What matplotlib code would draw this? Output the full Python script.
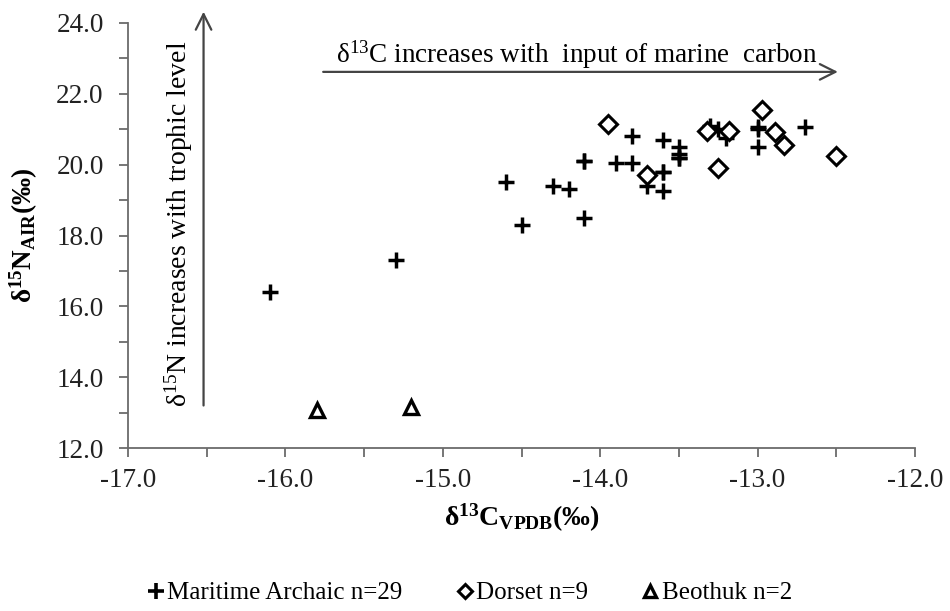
import matplotlib
matplotlib.use("Agg")
import matplotlib.pyplot as plt
from matplotlib.lines import Line2D

plt.rcParams['font.family'] = ['Liberation Serif', 'DejaVu Serif']
plt.rcParams['mathtext.fontset'] = 'custom'
plt.rcParams['mathtext.rm'] = 'Liberation Serif'
plt.rcParams['mathtext.it'] = 'Liberation Serif:italic'
plt.rcParams['mathtext.bf'] = 'Liberation Serif:bold'

# Maritime Archaic (n=29)
ma_c = [-16.1, -15.3, -14.6, -14.5, -14.3, -14.2, -14.1, -14.1, -14.1, -13.9,
        -13.8, -13.8, -13.7, -13.7, -13.6, -13.6, -13.6, -13.6, -13.5, -13.5,
        -13.5, -13.5, -13.3, -13.25, -13.2, -13.0, -13.0, -13.0, -12.7]
ma_n = [16.4, 17.3, 19.5, 18.3, 19.4, 19.3, 20.1, 20.1, 18.5, 20.05,
        20.05, 20.8, 19.4, 19.7, 19.8, 19.8, 19.25, 20.7, 20.5, 20.3,
        20.2, 20.2, 21.1, 21.0, 20.75, 21.05, 21.0, 20.5, 21.05]

# Dorset (n=9)
do_c = [-13.95, -13.7, -13.32, -13.25, -13.18, -12.97, -12.89, -12.83, -12.5]
do_n = [21.15, 19.7, 20.95, 19.9, 20.95, 21.55, 20.93, 20.55, 20.25]

# Beothuk (n=2)
be_c = [-15.8, -15.2]
be_n = [13.08, 13.16]

legend_labels = ['Maritime Archaic n=29', 'Dorset n=9', 'Beothuk n=2']

fig = plt.figure(figsize=(9.5, 6.11), dpi=100)
ax = fig.add_axes([128/950, 1-448/611, (915-128)/950, (448-23)/611])

spine_col = '#6b6b6b'
ax.plot(ma_c, ma_n, linestyle='none', marker='+', markersize=12, mew=2.5,
        color='black', zorder=3)
ax.plot(do_c, do_n, linestyle='none', marker='D', markersize=9.5, mew=2.2,
        mfc='white', mec='black', zorder=4)
ax.plot(be_c, be_n, linestyle='none', marker='^', markersize=10, mew=2.4,
        mfc='white', mec='black', zorder=4)

ax.set_xlim(-17, -12)
ax.set_ylim(12, 24)
ax.set_xticks([-17, -16, -15, -14, -13, -12])
ax.set_xticks([-16.5, -15.5, -14.5, -13.5, -12.5], minor=True)
ax.set_yticks([12, 14, 16, 18, 20, 22, 24])
ax.set_yticks([13, 15, 17, 19, 21, 23], minor=True)
ax.set_xticklabels(['%.1f' % v for v in ax.get_xticks()])
ax.set_yticklabels(['%.1f' % v for v in ax.get_yticks()])
for s in ['top', 'right']:
    ax.spines[s].set_visible(False)
for s in ['left', 'bottom']:
    ax.spines[s].set_color(spine_col)
    ax.spines[s].set_linewidth(1.3)
ax.tick_params(which='both', direction='out', length=6.5, width=1.3,
               color=spine_col, labelsize=19.5, labelcolor='#222222')
ax.tick_params(axis='x', pad=8)
ax.tick_params(axis='y', pad=11)

ax.set_xlabel(r'$\mathbf{δ^{13}C_{VPDB}(‰)}$', fontsize=20, labelpad=6)
ax.set_ylabel(r'$\mathbf{δ^{15}N_{AIR}(‰)}$', fontsize=19.5, labelpad=12)

arrow_col = '#444444'
ax.annotate('', xy=(-12.49, 22.62), xytext=(-15.76, 22.62),
            arrowprops=dict(arrowstyle='->', color=arrow_col, lw=1.6,
                            mutation_scale=28, shrinkA=0, shrinkB=0),
            annotation_clip=False)
ax.text(-14.15, 22.64, r'δ$^{13}$C increases with  input of marine  carbon',
        ha='center', va='bottom', fontsize=19.5)
ax.annotate('', xy=(-16.52, 24.32), xytext=(-16.52, 13.2),
            arrowprops=dict(arrowstyle='->', color=arrow_col, lw=1.6,
                            mutation_scale=28, shrinkA=0, shrinkB=0),
            annotation_clip=False)
ax.text(-16.68, 13.15, r'δ$^{15}$N increases with trophic level',
        rotation=90, ha='center', va='bottom', fontsize=20)

handles = [
    Line2D([], [], linestyle='none', marker='+', markersize=11, mew=2.6, color='black'),
    Line2D([], [], linestyle='none', marker='D', markersize=7.5, mew=2.2, mfc='white', mec='black'),
    Line2D([], [], linestyle='none', marker='^', markersize=8.5, mew=2.4, mfc='white', mec='black'),
]
fig.legend(handles, legend_labels, loc='center', bbox_to_anchor=(470/950, 1-593/611),
           ncol=3, frameon=False, fontsize=18, handlelength=0.6,
           handletextpad=0.15, columnspacing=2.2, borderaxespad=0)

fig.savefig('out.png', dpi=100)
